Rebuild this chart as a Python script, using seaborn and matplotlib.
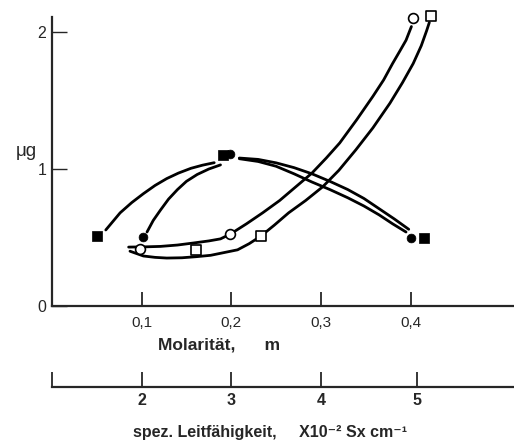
import matplotlib
matplotlib.use("Agg")
import matplotlib.pyplot as plt
import seaborn as sns

# ---- measured points (Molarität m, µg) ----
fsq_x = [0.050, 0.191, 0.415]   # filled squares
fsq_y = [0.51, 1.10, 0.50]
fci_x = [0.101, 0.199, 0.401]   # filled circles
fci_y = [0.506, 1.11, 0.50]
oci_x = [0.0985, 0.199, 0.403]  # open circles
oci_y = [0.416, 0.525, 2.10]
osq_x = [0.161, 0.233, 0.423]   # open squares
osq_y = [0.41, 0.51, 2.12]

# ---- hand-drawn curves ----
cA_x = [0.060, 0.076, 0.089, 0.102, 0.115, 0.128, 0.141, 0.155, 0.168, 0.181]
cA_y = [0.555, 0.68, 0.755, 0.82, 0.88, 0.93, 0.97, 1.005, 1.028, 1.046]
cB_x = [0.106, 0.113, 0.121, 0.130, 0.140, 0.150, 0.162, 0.175, 0.188]
cB_y = [0.54, 0.625, 0.70, 0.78, 0.85, 0.91, 0.96, 1.0, 1.03]
cU_x = [0.209, 0.230, 0.250, 0.270, 0.290, 0.310, 0.330, 0.348, 0.365, 0.382, 0.398]
cU_y = [1.08, 1.07, 1.045, 1.01, 0.965, 0.91, 0.85, 0.785, 0.71, 0.635, 0.56]
cL_x = [0.209, 0.230, 0.250, 0.270, 0.290, 0.310, 0.330, 0.348, 0.365, 0.380, 0.395]
cL_y = [1.075, 1.055, 1.02, 0.965, 0.905, 0.85, 0.79, 0.73, 0.665, 0.60, 0.54]
cC_x = [0.0855, 0.105, 0.121, 0.140, 0.158, 0.175, 0.188, 0.199, 0.217, 0.235,
        0.254, 0.272, 0.290, 0.306, 0.321, 0.340, 0.358, 0.370, 0.380, 0.388,
        0.395, 0.401]
cC_y = [0.43, 0.432, 0.435, 0.445, 0.46, 0.475, 0.49, 0.525, 0.60, 0.68,
        0.77, 0.87, 0.97, 1.08, 1.19, 1.36, 1.53, 1.65, 1.77, 1.86,
        1.94, 2.04]
cD_x = [0.087, 0.102, 0.115, 0.128, 0.145, 0.161, 0.177, 0.192, 0.207, 0.220,
        0.233, 0.248, 0.264, 0.283, 0.302, 0.320, 0.339, 0.358, 0.377, 0.391,
        0.403, 0.412, 0.418, 0.421]
cD_y = [0.40, 0.365, 0.355, 0.35, 0.352, 0.36, 0.37, 0.39, 0.41, 0.455,
        0.51, 0.59, 0.68, 0.77, 0.87, 0.99, 1.14, 1.30, 1.48, 1.63,
        1.77, 1.90, 2.01, 2.07]

# ---- axis ticks / labels ----
m_ticks = [0.1, 0.2, 0.3, 0.4]
m_labels = ["0,1", "0,2", "0,3", "0,4"]
y_ticks = [0, 1, 2]
y_labels = ["0", "1", "2"]
k_tick_pos = [0.0, 0.1, 0.2, 0.3, 0.407]
k_labels = ["", "2", "3", "4", "5"]

sns.set_style("ticks")
plt.rcParams['font.family'] = ['Liberation Sans', 'DejaVu Sans']

W, H = 514, 445
fig = plt.figure(figsize=(W / 100, H / 100), dpi=100)
ax = fig.add_axes([52 / W, 1 - 306 / H, (W - 52) / W, (306 - 17) / H])

lw = 2.0
for cx, cy in [(cA_x, cA_y), (cB_x, cB_y), (cU_x, cU_y), (cL_x, cL_y),
               (cC_x, cC_y), (cD_x, cD_y)]:
    sns.lineplot(x=cx, y=cy, ax=ax, sort=False, estimator=None,
                 color='black', linewidth=lw, zorder=2)

sns.scatterplot(x=fsq_x, y=fsq_y, ax=ax, marker='s', s=60, color='black',
                edgecolor='black', linewidth=0.5, zorder=4, clip_on=False)
sns.scatterplot(x=fci_x, y=fci_y, ax=ax, marker='o', s=40, color='black',
                edgecolor='black', linewidth=0.5, zorder=4, clip_on=False)
sns.scatterplot(x=oci_x, y=oci_y, ax=ax, marker='o', s=50, color='white',
                edgecolor='black', linewidth=1.2, zorder=4, clip_on=False)
sns.scatterplot(x=osq_x, y=osq_y, ax=ax, marker='s', s=55, color='white',
                edgecolor='black', linewidth=1.2, zorder=4, clip_on=False)

ax.set_xlim(0, (W - 53.7) / 893)
ax.set_ylim(0, (306 - 17) / 137)
sns.despine(ax=ax)
for s in ['left', 'bottom']:
    ax.spines[s].set_linewidth(1.6)
ax.set_xticks(m_ticks)
ax.set_xticklabels(m_labels, fontsize=11)
ax.set_yticks(y_ticks)
ax.set_yticklabels(y_labels, fontsize=11.5)
ax.tick_params(axis='x', direction='in', length=10, width=1.3, pad=7)
ax.tick_params(axis='y', direction='in', length=11, width=1.0, pad=4)
ax.set_xlabel("")
ax.set_ylabel("")

# conductivity scale
ax2 = fig.add_axes([52 / W, 1 - 387 / H, (W - 52) / W, 0.0001])
ax2.set_xlim(ax.get_xlim())
ax2.set_yticks([])
for s in ['left', 'right', 'top']:
    ax2.spines[s].set_visible(False)
ax2.spines['bottom'].set_linewidth(1.6)
ax2.set_xticks(k_tick_pos)
ax2.set_xticklabels(k_labels, fontsize=11.5, fontweight='bold')
ax2.tick_params(axis='x', direction='in', length=11, width=1.3, pad=4)
ax2.patch.set_visible(False)

fig.text(26 / W, 1 - 152 / H, "μg", ha='center', va='center', fontsize=13.5)
fig.text(158 / W, 1 - 345 / H, "Molarität,      m", ha='left', va='center',
         fontsize=12.5, fontweight='bold')
fig.text(133 / W, 1 - 432 / H, "spez. Leitfähigkeit,     X10⁻² Sx cm⁻¹",
         ha='left', va='center', fontsize=11.5, fontweight='bold')

fig.savefig("out.png", dpi=100)
